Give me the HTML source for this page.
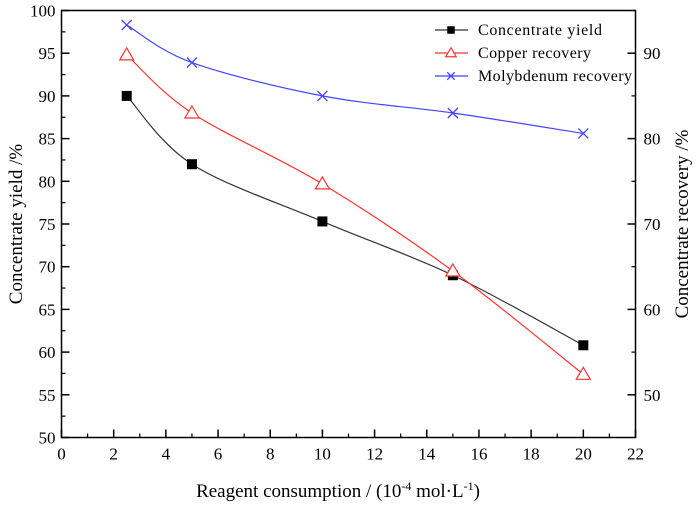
<!DOCTYPE html>
<html><head><meta charset="utf-8"><style>
body{margin:0;background:#fff}
svg{display:block;font-family:"Liberation Serif",serif}
</style></head><body>
<svg id="c" width="700" height="507"></svg>
<script>
const xs=[2.5,5,10,15,20];
const yieldVals=[90,82,75.3,69,60.8];
const copperVals=[89.8,83,74.7,64.5,52.4];
const molyVals=[93.3,88.9,85,83,80.6];
const xTicks=[0,2,4,6,8,10,12,14,16,18,20,22];
const yLTicks=[50,55,60,65,70,75,80,85,90,95,100];
const yRTicks=[50,60,70,80,90];
const L=61.5,R=635.5,T=10.5,B=437.5;
const X=v=>L+(v-0)/22*(R-L);
const YL=v=>B-(v-50)/50*(B-T);
const YR=v=>B-(v-45)/50*(B-T);
const svg=document.getElementById('c');const NS='http://www.w3.org/2000/svg';
function mk(t,a,p){const e=document.createElementNS(NS,t);for(const k in a)e.setAttribute(k,a[k]);(p||svg).appendChild(e);return e;}
let e;
e=mk('rect',{x:L,y:T,width:R-L,height:B-T,fill:'none',stroke:'#000','stroke-width':1.5});

for(const t of xTicks){e=mk('line',{x1:X(t),x2:X(t),y1:B,y2:B-8,stroke:'#000','stroke-width':1.5});

if(t<22){mk('line',{x1:X(t+1),x2:X(t+1),y1:B,y2:B-4,stroke:'#000','stroke-width':1.2});}
e=mk('text',{x:X(t),y:B+22,'text-anchor':'middle','font-size':17});e.textContent=t;
}
for(const t of yLTicks){e=mk('line',{x1:L,x2:L+8,y1:YL(t),y2:YL(t),stroke:'#000','stroke-width':1.5});

if(t<100)mk('line',{x1:L,x2:L+4,y1:YL(t+2.5),y2:YL(t+2.5),stroke:'#000','stroke-width':1.2});
e=mk('text',{x:L-6,y:YL(t)+6,'text-anchor':'end','font-size':17});e.textContent=t;
}
for(const t of yRTicks){e=mk('line',{x1:R,x2:R-8,y1:YR(t),y2:YR(t),stroke:'#000','stroke-width':1.5});

mk('line',{x1:R,x2:R-4,y1:YR(t+5),y2:YR(t+5),stroke:'#000','stroke-width':1.2});
e=mk('text',{x:R+8,y:YR(t)+6,'font-size':17});e.textContent=t;
}
mk('line',{x1:R,x2:R-4,y1:YR(45),y2:YR(45),stroke:'#000'});
function spline(pts){let d='M'+pts[0][0]+','+pts[0][1];
for(let i=0;i<pts.length-1;i++){const p0=pts[i-1]||pts[i],p1=pts[i],p2=pts[i+1],p3=pts[i+2]||p2;
d+=` C${p1[0]+(p2[0]-p0[0])/6},${p1[1]+(p2[1]-p0[1])/6} ${p2[0]-(p3[0]-p1[0])/6},${p2[1]-(p3[1]-p1[1])/6} ${p2[0]},${p2[1]}`;}return d;}
function marker(type,x,y,col,name,s){s=s||1;let m;
if(type==='sq')m=mk('rect',{x:x-5*s,y:y-5*s,width:10*s,height:10*s,fill:'#000'});
else if(type==='tri')m=mk('polygon',{points:`${x},${y-7*s} ${x-7*s},${y+5*s} ${x+7*s},${y+5*s}`,fill:'#fff',stroke:col,'stroke-width':1.2});
else m=mk('path',{d:`M${x-5*s},${y-5*s}L${x+5*s},${y+5*s}M${x-5*s},${y+5*s}L${x+5*s},${y-5*s}`,stroke:col,'stroke-width':1.3});
}
const series=[[yieldVals,YL,'#333','sq','yield'],[copperVals,YR,'#f33','tri','copper'],[molyVals,YR,'#44f','x','molybdenum']];
for(const [vals,Y,col,type,n] of series){const pts=xs.map((x,i)=>[X(x),Y(vals[i])]);
e=mk('path',{d:spline(pts),fill:'none',stroke:col,'stroke-width':1.2});

pts.forEach(p=>marker(type,p[0],p[1],col,n+'-point'));}
const leg=[['sq','#333','Concentrate yield',124],['tri','#f33','Copper recovery',113],['x','#44f','Molybdenum recovery',154]];
leg.forEach((l,i)=>{const y=30+i*23;mk('line',{x1:435,x2:468,y1:y,y2:y,stroke:l[1],'stroke-width':1.2});
marker(l[0],451,y,l[1],'legend-marker',0.75);
e=mk('text',{x:478,y:y+5,'font-size':16,textLength:l[3],lengthAdjust:'spacing'});e.textContent=l[2];
});
e=mk('text',{x:0,y:0,'font-size':19,'text-anchor':'middle',transform:`translate(22,${(T+B)/2}) rotate(-90)`});e.textContent='Concentrate yield /%';

e=mk('text',{x:0,y:0,'font-size':19,'text-anchor':'middle',transform:`translate(688,${(T+B)/2}) rotate(-90)`});e.textContent='Concentrate recovery /%';

e=mk('text',{x:338,y:497,'font-size':19,'text-anchor':'middle'});
e.innerHTML='Reagent consumption / (10<tspan dy="-7" font-size="12">-4</tspan><tspan dy="7"> mol·L</tspan><tspan dy="-7" font-size="12">-1</tspan><tspan dy="7">)</tspan>';

</script>
</body></html>
